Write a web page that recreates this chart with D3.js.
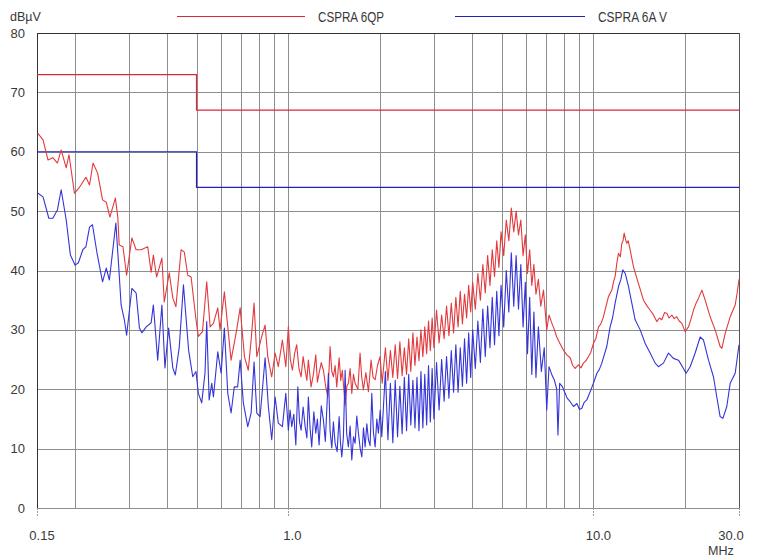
<!DOCTYPE html>
<html>
<head>
<meta charset="utf-8">
<script src="https://cdn.jsdelivr.net/npm/d3@7/dist/d3.min.js"></script>
<style>
  html, body { margin: 0; padding: 0; background: #fff; }
  svg { display: block; font-family: "Liberation Sans", Arial, sans-serif; }
</style>
</head>
<body>
<svg id="chart" width="758" height="558"></svg>
<script>
// Conducted emission scan, 0.15 – 30 MHz, levels in dBµV

const yTicks = [0, 10, 20, 30, 40, 50, 60, 70, 80];
const xGrid = [0.15, 0.2, 0.3, 0.4, 0.5, 0.6, 0.7, 0.8, 0.9, 1, 2, 3, 4, 5, 6, 7, 8, 9, 10, 20, 30];
const xLabels = [[0.15, "0.15"], [1, "1.0"], [10, "10.0"], [30, "30.0"]];
const seriesNames = ["CSPRA 6QP", "CSPRA 6A V"];

// Limit lines [MHz, dBµV]
const qpLimit = [[0.15, 73], [0.5, 73], [0.5, 67], [30, 67]];
const avLimit = [[0.15, 60], [0.5, 60], [0.5, 54], [30, 54]];

// Quasi-peak trace [MHz, dBµV]
const qpTrace = [
  [0.151,63.1],[0.157,62.0],[0.163,58.6],[0.169,59.0],[0.175,58.1],[0.180,60.3],[0.187,57.3],[0.191,59.5],
  [0.199,53.0],[0.206,53.9],[0.217,55.7],[0.223,54.4],[0.229,58.1],[0.237,56.4],[0.246,51.9],[0.253,51.5],
  [0.260,49.0],[0.271,52.2],[0.276,49.0],[0.279,44.3],[0.287,44.0],[0.295,39.2],[0.307,45.5],[0.317,43.5],
  [0.329,43.5],[0.346,44.0],[0.355,39.7],[0.361,42.6],[0.370,38.9],[0.385,42.1],[0.392,34.7],[0.407,39.6],
  [0.418,35.4],[0.428,33.9],[0.445,43.5],[0.456,43.1],[0.468,39.2],[0.480,38.9],[0.498,31.7],[0.507,28.9],
  [0.523,29.7],[0.540,38.1],[0.554,30.5],[0.568,31.1],[0.587,33.7],[0.597,30.0],[0.617,36.4],[0.633,30.5],
  [0.649,24.9],[0.665,27.8],[0.677,30.0],[0.695,33.7],[0.718,25.5],[0.739,23.2],[0.755,28.3],[0.772,34.5],
  [0.788,25.5],[0.818,28.9],[0.839,30.8],[0.856,25.5],[0.882,22.1],[0.905,26.1],[0.927,23.8],[0.956,28.3],
  [0.981,23.8],[1.000,30.5],[1.015,25.0],[1.031,23.2],[1.048,26.0],[1.065,27.5],[1.083,23.5],[1.101,22.1],
  [1.118,25.5],[1.135,23.2],[1.150,21.5],[1.163,24.9],[1.187,20.4],[1.208,22.5],[1.230,25.8],[1.245,21.2],
  [1.261,22.7],[1.282,24.5],[1.303,23.2],[1.325,20.5],[1.347,18.7],[1.370,27.2],[1.388,23.0],[1.405,22.1],
  [1.423,24.0],[1.441,20.4],[1.467,25.3],[1.485,21.5],[1.503,23.2],[1.520,20.0],[1.535,17.3],[1.555,20.5],
  [1.573,21.0],[1.594,23.5],[1.614,19.3],[1.635,22.5],[1.655,21.0],[1.690,20.0],[1.718,26.1],[1.740,22.0],
  [1.762,19.9],[1.795,22.8],[1.830,19.6],[1.867,24.9],[1.895,22.0],[1.925,21.6],[1.960,24.0],[1.998,25.5],
  [2.03,21.0],
  [2.08,27.0],[2.12,21.5],[2.16,26.5],[2.20,22.0],[2.24,27.5],[2.28,21.8],[2.32,28.0],[2.36,22.3],
  [2.40,27.0],[2.44,22.5],[2.48,28.5],[2.52,23.0],[2.56,29.5],[2.60,24.0],[2.64,28.8],[2.68,24.8],
  [2.72,30.0],[2.76,25.5],[2.80,30.5],[2.84,26.0],[2.88,31.5],[2.92,26.5],[2.96,32.0],[3.00,27.0],
  [3.06,33.3],[3.12,27.8],[3.18,32.5],[3.24,28.5],[3.30,34.0],[3.36,29.0],[3.42,34.5],[3.48,29.5],
  [3.54,35.5],[3.60,30.5],[3.66,36.5],[3.72,31.0],[3.78,36.0],[3.84,32.0],[3.90,37.5],[3.96,33.0],
  [4.02,38.0],[4.10,33.5],[4.18,39.5],[4.26,35.0],[4.34,41.0],[4.42,36.2],[4.50,42.5],[4.58,37.5],
  [4.66,43.5],[4.74,39.0],[4.82,45.0],[4.90,40.5],[4.98,46.5],[5.08,42.5],[5.18,48.5],[5.28,45.0],
  [5.38,50.5],[5.48,46.5],[5.58,50.0],[5.68,46.0],[5.78,48.5],[5.88,42.5],[5.98,46.0],[6.08,39.5],
  [6.18,43.5],[6.28,37.5],[6.38,41.0],[6.48,36.0],
  [6.60,38.5],[6.72,34.0],[6.86,36.7],[7.03,30.0],[7.15,32.5],[7.31,31.1],[7.45,30.0],[7.58,28.8],
  [7.75,27.8],[7.97,26.6],[8.18,25.8],[8.39,25.3],[8.55,24.0],[8.71,23.5],[8.93,24.1],[9.10,23.6],
  [9.27,24.4],[9.45,24.8],[9.63,25.5],[9.80,26.2],[10.0,27.7],[10.19,28.6],[10.39,30.5],[10.58,31.0],
  [10.78,32.2],[11.0,34.0],[11.20,35.6],[11.49,36.7],[11.65,38.2],[11.78,39.0],[11.95,41.5],[12.08,42.9],
  [12.25,42.3],[12.39,44.6],[12.50,45.0],[12.61,46.3],[12.75,45.2],[12.86,44.6],[13.0,45.0],[13.19,43.5],
  [13.53,40.6],[14.05,37.8],[14.59,35.0],[15.0,34.0],[15.34,33.3],[15.7,32.6],[16.13,31.4],[16.45,32.0],
  [16.76,31.7],[17.1,32.9],[17.40,32.8],[17.7,32.0],[18.07,32.5],[18.4,31.9],[18.76,32.2],[19.1,31.5],
  [19.49,31.1],[19.98,29.7],[20.49,30.5],[20.9,31.9],[21.27,33.3],[21.7,34.5],[22.09,35.3],[22.67,36.7],
  [23.24,35.0],[24.13,32.2],[25.06,30.0],[26.02,27.2],[26.36,26.9],[27.03,29.4],[28.07,32.2],[29.15,34.2],
  [29.6,36.3],[30.0,38.5]
];

// Average trace [MHz, dBµV]
const avTrace = [
  [0.151,53.0],[0.157,52.4],[0.164,48.8],[0.169,48.8],[0.175,50.2],[0.180,53.6],[0.187,48.5],[0.193,42.6],
  [0.200,40.9],[0.205,41.3],[0.212,43.5],[0.217,44.0],[0.223,47.3],[0.228,47.7],[0.236,42.9],[0.246,38.1],
  [0.253,40.4],[0.259,38.4],[0.272,48.0],[0.278,40.6],[0.283,34.2],[0.290,31.7],[0.295,29.1],[0.307,37.0],
  [0.317,36.2],[0.325,30.3],[0.331,29.5],[0.342,30.5],[0.355,31.2],[0.361,34.2],[0.373,24.9],[0.385,34.2],
  [0.394,23.6],[0.405,30.3],[0.418,23.6],[0.426,22.4],[0.439,27.1],[0.453,37.6],[0.471,26.6],[0.486,22.1],
  [0.498,23.0],[0.507,19.3],[0.520,17.7],[0.533,22.7],[0.540,31.4],[0.550,18.2],[0.561,21.0],[0.568,18.7],
  [0.587,26.3],[0.602,22.7],[0.617,30.3],[0.633,19.3],[0.649,16.0],[0.665,20.4],[0.682,20.4],[0.695,24.9],
  [0.712,17.7],[0.736,13.7],[0.755,16.0],[0.772,24.6],[0.788,16.0],[0.808,15.4],[0.839,25.3],[0.860,17.1],
  [0.882,11.5],[0.905,18.7],[0.927,14.3],[0.956,13.7],[0.981,19.3],
  [1.000,13.1],[1.013,16.5],[1.026,13.7],[1.042,15.8],[1.058,10.6],[1.074,20.4],[1.088,14.5],[1.101,13.1],
  [1.118,17.0],[1.135,13.7],[1.150,11.8],[1.163,18.7],[1.178,13.5],[1.193,10.3],[1.212,16.2],[1.230,12.6],
  [1.245,15.0],[1.261,10.6],[1.282,17.2],[1.303,14.8],[1.322,11.2],[1.353,22.7],[1.370,13.0],[1.388,10.1],
  [1.405,14.5],[1.423,10.9],[1.445,9.5],[1.467,15.4],[1.482,11.0],[1.497,8.6],[1.515,12.0],[1.535,23.2],
  [1.553,12.5],[1.573,10.3],[1.594,13.8],[1.614,8.1],[1.635,12.0],[1.655,10.9],[1.676,15.5],[1.697,12.6],
  [1.720,10.0],[1.741,8.6],[1.763,13.5],[1.785,10.3],[1.808,14.2],[1.830,11.5],[1.853,10.5],[1.877,19.3],
  [1.900,12.8],[1.925,10.3],[1.950,15.0],[1.973,12.6],[2.00,16.5],[2.024,12.0],
  [2.08,23.0],[2.12,11.5],[2.16,21.0],[2.20,11.0],[2.24,21.5],[2.28,12.0],[2.32,20.5],[2.36,12.5],
  [2.40,22.0],[2.44,13.0],[2.48,22.5],[2.52,14.0],[2.56,21.5],[2.60,13.5],[2.64,22.0],[2.68,13.0],
  [2.72,23.0],[2.76,13.5],[2.80,22.5],[2.84,14.0],[2.88,24.0],[2.92,14.5],[2.96,23.5],[3.00,15.0],
  [3.06,24.5],[3.12,16.5],[3.18,25.0],[3.24,18.0],[3.30,25.5],[3.36,18.5],[3.42,26.5],[3.48,19.5],
  [3.54,27.5],[3.60,19.5],[3.66,27.0],[3.72,20.5],[3.78,28.5],[3.84,21.0],[3.90,29.5],[3.96,22.0],
  [4.02,30.0],[4.10,23.5],[4.18,31.5],[4.26,24.5],[4.34,33.5],[4.42,25.5],[4.50,34.0],[4.58,27.0],
  [4.66,35.5],[4.74,27.5],[4.82,36.5],[4.90,29.0],[4.98,37.5],[5.08,30.5],[5.18,40.0],[5.28,33.0],
  [5.38,43.0],[5.48,34.0],[5.58,42.5],[5.68,33.5],[5.78,41.0],[5.88,30.5],[5.98,38.0],[6.08,26.0],
  [6.18,35.5],[6.28,22.5],[6.38,33.0],[6.48,22.0],
  [6.60,30.5],[6.75,23.0],[6.90,27.0],[7.03,16.5],[7.15,23.8],[7.30,22.5],[7.45,21.5],[7.58,20.0],
  [7.65,12.3],[7.75,21.0],[7.90,20.5],[8.05,19.5],[8.20,18.5],[8.39,17.9],[8.60,17.1],[8.83,17.6],
  [9.00,16.6],[9.16,16.8],[9.33,17.8],[9.51,18.2],[9.65,19.0],[9.81,19.9],[10.0,21.0],[10.26,22.7],
  [10.45,23.3],[10.65,24.4],[11.06,27.2],[11.34,30.5],[11.55,32.0],[11.78,34.5],[12.08,37.3],[12.30,38.5],
  [12.48,40.1],[12.71,39.5],[13.03,37.3],[13.36,34.5],[13.70,31.7],[14.23,30.0],[14.78,27.7],[15.34,26.1],
  [15.93,24.4],[16.33,23.8],[16.96,24.4],[17.62,26.1],[18.29,25.2],[19.00,24.9],[19.73,23.5],[20.12,22.7],
  [20.75,23.8],[21.55,26.1],[22.38,28.8],[22.94,28.3],[23.83,24.9],[24.74,22.1],[25.37,18.7],[26.02,15.4],
  [26.56,15.1],[27.36,17.1],[28.07,21.0],[29.15,22.7],[30.0,27.5]
];

const svg = d3.select("#chart");
const plot = { left: 37, right: 739, top: 33, bottom: 508 };

const x = d3.scaleLog().domain([0.15, 30]).range([plot.left, plot.right]);
const y = d3.scaleLinear().domain([0, 80]).range([plot.bottom, plot.top]);

const gridColor = "#8e8e8e";
const textColor = "#383838";

// Grid
const grid = svg.append("g");
grid.selectAll("line.v").data(xGrid).join("line")
  .attr("x1", d => Math.round(x(d)) + 0.5).attr("x2", d => Math.round(x(d)) + 0.5)
  .attr("y1", plot.top).attr("y2", plot.bottom)
  .attr("stroke", gridColor).attr("stroke-width", 1);
grid.selectAll("line.h").data(yTicks).join("line")
  .attr("x1", plot.left).attr("x2", plot.right)
  .attr("y1", d => Math.round(y(d)) + 0.5).attr("y2", d => Math.round(y(d)) + 0.5)
  .attr("stroke", gridColor).attr("stroke-width", 1);

// Frame: darker top and left edges
svg.append("line").attr("x1", plot.left).attr("x2", plot.right)
  .attr("y1", plot.top + 0.5).attr("y2", plot.top + 0.5).attr("stroke", "#333");
svg.append("line").attr("x1", plot.left + 0.5).attr("x2", plot.left + 0.5)
  .attr("y1", plot.top).attr("y2", plot.bottom).attr("stroke", "#333");
svg.append("line").attr("x1", plot.right + 0.5).attr("x2", plot.right + 0.5)
  .attr("y1", plot.top).attr("y2", plot.bottom).attr("stroke", "#555");

// Short ticks below the labelled frequencies
svg.selectAll("line.tick").data(xLabels).join("line")
  .attr("x1", d => Math.round(x(d[0])) + 0.5).attr("x2", d => Math.round(x(d[0])) + 0.5)
  .attr("y1", plot.bottom).attr("y2", plot.bottom + 8)
  .attr("stroke", "#999").attr("stroke-dasharray", "2,1");

// Axis labels
svg.selectAll("text.ylab").data(yTicks).join("text")
  .attr("x", 25).attr("y", d => y(d)).attr("dy", "0.35em")
  .attr("text-anchor", "end").attr("font-size", 13).attr("fill", textColor)
  .text(d => d);

const xLabelShift = [5, 4, 5, -8];
svg.selectAll("text.xlab").data(xLabels).join("text")
  .attr("x", (d, i) => x(d[0]) + xLabelShift[i]).attr("y", 540)
  .attr("text-anchor", "middle").attr("font-size", 13).attr("fill", textColor)
  .text(d => d[1]);

svg.append("text").attr("x", 10).attr("y", 20.5).attr("font-size", 12.5)
  .attr("fill", textColor).text("dBµV");
svg.append("text").attr("x", 708).attr("y", 555).attr("font-size", 12.5)
  .attr("fill", textColor).text("MHz");

// Lines
const line = d3.line().x(d => x(d[0])).y(d => y(d[1]));

const qpColor = "#e23a3e";
const avColor = "#3434d8";

svg.append("path").datum(qpLimit).attr("d", line)
  .attr("fill", "none").attr("stroke", "#d8283a").attr("stroke-width", 1.2);
svg.append("path").datum(avLimit).attr("d", line)
  .attr("fill", "none").attr("stroke", "#2020c0").attr("stroke-width", 1.2);

svg.append("path").datum(qpTrace).attr("d", line)
  .attr("fill", "none").attr("stroke", qpColor).attr("stroke-width", 1.1)
  .attr("stroke-linejoin", "round");
svg.append("path").datum(avTrace).attr("d", line)
  .attr("fill", "none").attr("stroke", avColor).attr("stroke-width", 1.1)
  .attr("stroke-linejoin", "round");

// Legend
const legend = [
  { name: seriesNames[0], color: "#d8283a", x0: 177, x1: 305, tx: 318, w: 66 },
  { name: seriesNames[1], color: "#2020c0", x0: 455, x1: 585, tx: 598, w: 69 }
];
legend.forEach(l => {
  svg.append("line").attr("x1", l.x0).attr("x2", l.x1).attr("y1", 16.5).attr("y2", 16.5)
    .attr("stroke", l.color).attr("stroke-width", 1.2);
  svg.append("text").attr("x", l.tx).attr("y", 21.5).attr("font-size", 14)
    .attr("fill", textColor)
    .attr("textLength", l.w).attr("lengthAdjust", "spacingAndGlyphs")
    .text(l.name);
});
</script>
</body>
</html>
